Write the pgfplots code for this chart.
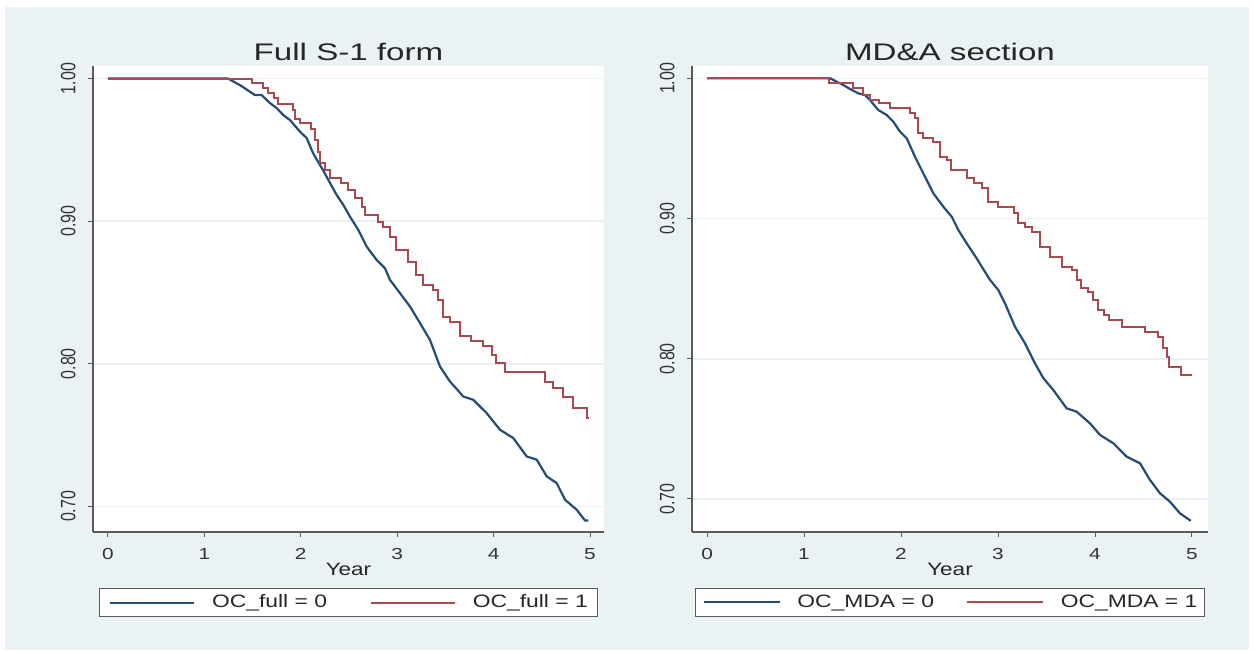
\documentclass[border=0pt]{standalone}
\usepackage{fontspec}
\setmainfont{Liberation Sans}
\usepackage{pgfplots}
\pgfplotsset{compat=1.18}

\definecolor{bgblue}{RGB}{234,242,243}
\definecolor{gridc}{RGB}{232,240,242}
\definecolor{kmblue}{RGB}{36,76,116}
\definecolor{kmred}{RGB}{170,74,80}
\definecolor{axgray}{RGB}{90,90,90}

\pgfplotsset{
  km/.style={
    scale only axis, anchor=south west, height=233pt,
    axis x line*=bottom, axis y line*=left,
    axis line style={axgray, line width=0.6pt, -},
    xtick={0,1,2,3,4,5}, ytick={0.7,0.8,0.9,1.0},
    tick align=outside, major tick length=2.5pt,
    major tick style={axgray, line width=0.5pt},
    ymajorgrids, major grid style={gridc, line width=0.8pt},
    axis background/.style={fill=white},
    tick label style={font=\fontsize{8}{9}\selectfont, text=black!80},
    /pgf/number format/assume math mode=true,
    yticklabel style={/pgf/number format/fixed, /pgf/number format/fixed zerofill,
      /pgf/number format/precision=2, xshift=-6pt, xscale=1.3, rotate=90, anchor=south, inner sep=0pt},
    xticklabel style={xscale=1.3, yshift=-2pt},
    xlabel={Year},
    xlabel style={at={(axis description cs:0.5,0)}, anchor=base, yshift=-22pt,
      font=\fontsize{9}{10}\selectfont, xscale=1.25, text=black!85},
    title style={at={(axis description cs:0.5,1)}, anchor=base, yshift=-3.5pt,
      font=\fontsize{12}{14}\selectfont, xscale=1.38, text=black!85},
    legend columns=2,
    legend style={at={(axis description cs:0.5,0)}, anchor=north, yshift=-28pt,
      draw=axgray, line width=0.6pt, fill=white, inner ysep=3pt,
      font=\fontsize{9}{10}\selectfont, text=black!85,
      column sep=8.5pt, nodes={inner sep=0pt, xscale=1.27}},
    no markers,
  }
}

\begin{document}
\begin{tikzpicture}
\useasboundingbox (0,0) rectangle (627pt,326.5pt);
\fill[white] (0,0) rectangle (627pt,326.5pt);
\fill[bgblue] (2.5pt,1.5pt) rectangle (624.5pt,323pt);

% left panel
\begin{axis}[km, at={(46.5pt,60.5pt)}, width=255.5pt,
  xmin=-0.155, xmax=5.145, ymin=0.682, ymax=1.0088,
  title={Full S-1 form},
  legend style={inner xsep=5pt, /tikz/every even column/.append style={column sep=21.5pt}},
  legend image code/.code={\draw[#1, line width=0.9pt] (0pt,0pt) -- (42pt,0pt);},
]
\addplot[kmblue, line width=1.1pt] coordinates {
  (0,1.0) (1.245,1.0) (1.369,0.9954) (1.473,0.9907) (1.525,0.9884) (1.594,0.9884)
  (1.680,0.9828) (1.750,0.9793) (1.818,0.9744) (1.888,0.9709) (1.992,0.9627)
  (2.061,0.9583) (2.127,0.9478) (2.178,0.9417) (2.230,0.9359) (2.303,0.9268)
  (2.372,0.9184) (2.441,0.9114) (2.510,0.9032) (2.597,0.8938) (2.684,0.8821)
  (2.787,0.8728) (2.873,0.8670) (2.925,0.8588) (3.029,0.8495) (3.133,0.8401)
  (3.237,0.8285) (3.340,0.8167) (3.444,0.7980) (3.548,0.7875) (3.686,0.7770)
  (3.789,0.7747) (3.928,0.7654) (4.066,0.7537) (4.204,0.7479) (4.343,0.7350)
  (4.447,0.7327) (4.551,0.7210) (4.654,0.7163) (4.741,0.7046) (4.862,0.6976)
  (4.948,0.6901) (4.982,0.6901)
};
\addlegendentry{OC\_full = 0}
\addplot[kmred, line width=1pt, const plot] coordinates {
  (0,1.0) (1.49,0.9966) (1.61,0.9933) (1.66,0.9896) (1.72,0.9863) (1.76,0.9821)
  (1.92,0.9779) (1.94,0.9716) (1.99,0.9688) (2.11,0.9644) (2.15,0.9569)
  (2.18,0.9485) (2.20,0.9408) (2.25,0.9359) (2.30,0.9303) (2.42,0.9268)
  (2.49,0.9219) (2.56,0.9163) (2.63,0.9102) (2.67,0.9043) (2.80,0.8996)
  (2.85,0.8959) (2.93,0.8891) (2.99,0.8798) (3.11,0.8716) (3.19,0.8623)
  (3.27,0.8553) (3.37,0.8518) (3.42,0.8448) (3.48,0.8331) (3.55,0.8296)
  (3.65,0.8191) (3.77,0.8156) (3.89,0.8121) (3.98,0.8062) (4.03,0.8006)
  (4.12,0.7945) (4.53,0.7875) (4.62,0.7831) (4.72,0.7770) (4.82,0.7691)
  (4.97,0.7619) (4.99,0.7619)
};
\addlegendentry{OC\_full = 1}
\end{axis}

% right panel
\begin{axis}[km, at={(346pt,60.5pt)}, width=258pt,
  xmin=-0.155, xmax=5.165, ymin=0.6764, ymax=1.0088,
  title={MD\&A section},
  legend style={inner xsep=3.5pt, /tikz/every even column/.append style={column sep=16pt}},
  legend image code/.code={\draw[#1, line width=0.9pt] (0pt,0pt) -- (38pt,0pt);},
]
\addplot[kmblue, line width=1.1pt] coordinates {
  (0,1.0) (1.268,1.0) (1.405,0.9952) (1.492,0.9917) (1.560,0.9893) (1.629,0.9881)
  (1.680,0.9845) (1.766,0.9774) (1.853,0.9738) (1.921,0.9690) (1.990,0.9619)
  (2.059,0.9572) (2.144,0.9441) (2.230,0.9322) (2.333,0.9180) (2.436,0.9084)
  (2.523,0.9013) (2.591,0.8918) (2.677,0.8823) (2.780,0.8716) (2.832,0.8657)
  (2.918,0.8562) (3.003,0.8490) (3.072,0.8395) (3.175,0.8228) (3.278,0.8110)
  (3.381,0.7967) (3.467,0.7862) (3.570,0.7777) (3.708,0.7646) (3.811,0.7622)
  (3.948,0.7539) (4.052,0.7456) (4.189,0.7397) (4.327,0.7301) (4.464,0.7254)
  (4.567,0.7135) (4.670,0.7040) (4.773,0.6980) (4.876,0.6897) (4.987,0.6844)
};
\addlegendentry{OC\_MDA = 0}
\addplot[kmred, line width=1pt, const plot] coordinates {
  (0,1.0) (1.26,0.9964) (1.51,0.9929) (1.61,0.9881) (1.68,0.9845) (1.77,0.9822)
  (1.89,0.9786) (2.09,0.9750) (2.14,0.9715) (2.18,0.9608) (2.23,0.9572)
  (2.33,0.9548) (2.40,0.9441) (2.47,0.9417) (2.52,0.9346) (2.68,0.9287)
  (2.75,0.9251) (2.83,0.9215) (2.90,0.9120) (3.00,0.9084) (3.16,0.9037)
  (3.21,0.8966) (3.28,0.8942) (3.35,0.8906) (3.43,0.8799) (3.54,0.8728)
  (3.66,0.8656) (3.76,0.8633) (3.81,0.8561) (3.86,0.8502) (3.93,0.8478)
  (3.98,0.8419) (4.03,0.8347) (4.09,0.8312) (4.14,0.8276) (4.28,0.8228)
  (4.52,0.8193) (4.65,0.8157) (4.70,0.8074) (4.74,0.8014) (4.76,0.7943)
  (4.89,0.7884) (5.00,0.7884)
};
\addlegendentry{OC\_MDA = 1}
\end{axis}
\end{tikzpicture}
\end{document}
